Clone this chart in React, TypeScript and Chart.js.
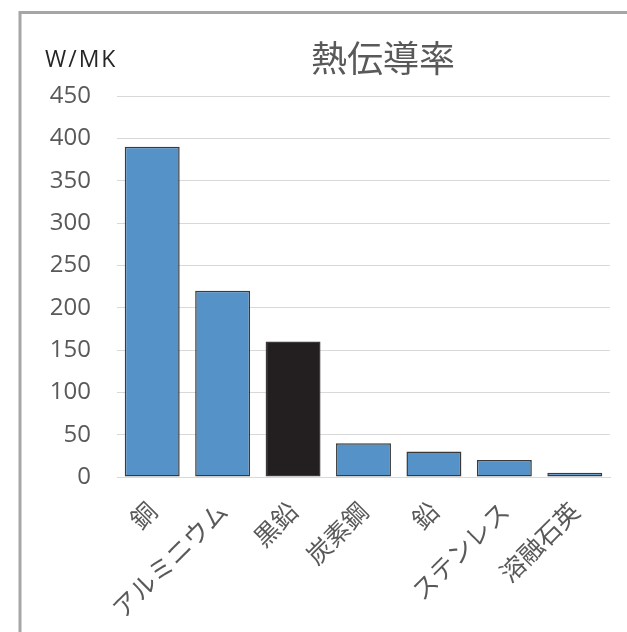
import React, { useEffect, useRef } from "react";
import { Chart, registerables } from "chart.js";

Chart.register(...registerables);

const categories = ["銅", "アルミニウム", "黒鉛", "炭素鋼", "鉛", "ステンレス", "溶融石英"];
const values = [390, 220, 160, 40, 30, 20, 5];
const barColors = ["#5592c7", "#5592c7", "#231f20", "#5592c7", "#5592c7", "#5592c7", "#5592c7"];
const yMin = 0;
const yMax = 450;
const yStep = 50;
const titleText = "熱伝導率";
const unitText = "W/MK";

const FONT = "'Open Sans', 'Noto Sans CJK JP', sans-serif";
const JP = "'Noto Sans CJK JP', sans-serif";

const framePlugin = {
  id: "frameAndTitle",
  afterDraw(chart: any) {
    const ctx = chart.ctx;
    ctx.save();
    ctx.strokeStyle = "#a6a6a6";
    ctx.lineWidth = 3;
    ctx.beginPath();
    ctx.moveTo(20, 700);
    ctx.lineTo(20, 12.5);
    ctx.lineTo(700, 12.5);
    ctx.stroke();

    ctx.fillStyle = "#595959";
    ctx.font = `36px ${JP}`;
    ctx.textAlign = "center";
    ctx.textBaseline = "middle";
    ctx.fillText(titleText, 383, 58);

    ctx.fillStyle = "#262626";
    ctx.font = `23px ${FONT}`;
    ctx.textAlign = "left";
    try {
      ctx.letterSpacing = "2px";
    } catch (e) {}
    ctx.fillText(unitText, 45, 60);
    ctx.restore();
  },
};

export default function App() {
  const ref = useRef<HTMLCanvasElement | null>(null);
  useEffect(() => {
    if (!ref.current) return;
    const chart = new Chart(ref.current, {
      type: "bar",
      data: {
        labels: categories,
        datasets: [
          {
            data: values,
            backgroundColor: barColors,
            borderColor: "#3a3a3a",
            borderWidth: 1.5,
            borderSkipped: false,
            categoryPercentage: 1,
            barPercentage: 0.78,
          },
        ],
      },
      options: {
        responsive: false,
        animation: false,
        layout: { padding: { top: 96, left: 20, right: 17, bottom: 0 } },
        plugins: { legend: { display: false }, title: { display: false }, tooltip: { enabled: false } },
        scales: {
          x: {
            grid: { display: false, drawTicks: false },
            border: { display: true, color: "#d9d9d9", width: 1 },
            ticks: {
              minRotation: 45,
              maxRotation: 45,
              autoSkip: false,
              padding: 19,
              color: "#595959",
              font: { family: JP, size: 25 },
            },
            afterFit: (scale: any) => {
              scale.height = 155;
            },
          },
          y: {
            min: yMin,
            max: yMax,
            grid: { color: "#d9d9d9", lineWidth: 1, drawTicks: false },
            border: { display: false },
            ticks: {
              stepSize: yStep,
              padding: 26,
              color: "#595959",
              font: { family: FONT, size: 24 },
            },
            afterFit: (scale: any) => {
              scale.width = 97;
            },
          },
        },
      },
      plugins: [framePlugin],
    });
    return () => chart.destroy();
  }, []);
  return (
    <div style={{ position: "fixed", left: 0, top: 0, width: 627, height: 632, background: "#fff" }}>
      <canvas ref={ref} width={627} height={632} style={{ display: "block" }} />
    </div>
  );
}
